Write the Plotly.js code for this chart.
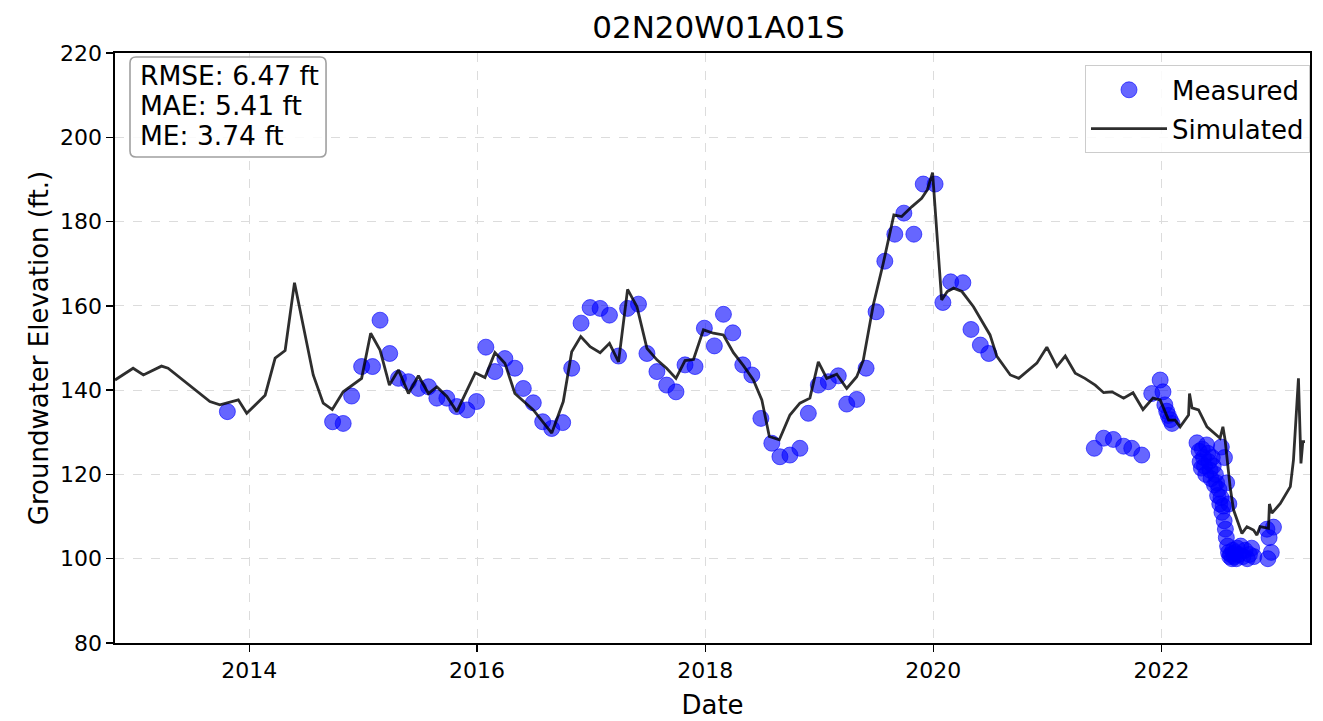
<!DOCTYPE html>
<html>
<head>
<meta charset="utf-8">
<script src="https://cdn.plot.ly/plotly-3.0.1.min.js"></script>
<style>html,body{margin:0;padding:0;background:#fff;}#chart{width:1323px;height:721px;}</style>
</head>
<body>
<div id="chart"></div>
<script>
// Simulated series
const simDates = ["2012-10-28","2012-12-25","2013-01-27","2013-03-26","2013-04-16","2013-06-15","2013-08-28","2013-09-29","2013-11-27","2013-12-24",
"2014-02-21","2014-03-25","2014-04-26","2014-05-26","2014-07-25","2014-08-26","2014-09-24","2014-10-29","2014-12-27","2015-01-25",
"2015-02-24","2015-03-26","2015-04-24","2015-05-26","2015-06-27","2015-07-29","2015-08-25","2015-09-26","2015-10-28","2015-12-26",
"2016-01-26","2016-02-27","2016-03-30","2016-05-01","2016-06-29","2016-08-27","2016-10-03","2016-10-30","2016-11-28","2016-12-28",
"2017-01-29","2017-02-28","2017-03-29","2017-04-27","2017-05-27","2017-06-28","2017-07-30","2017-08-30","2017-09-29","2017-10-28",
"2017-11-24","2017-12-26","2018-01-27","2018-02-28","2018-04-01","2018-05-03","2018-06-04","2018-07-01","2018-07-25","2018-08-26",
"2018-09-29","2018-10-31","2018-12-02","2018-12-29","2019-01-25","2019-02-26","2019-03-30","2019-05-01","2019-05-22","2019-06-23",
"2019-07-25","2019-08-28","2019-09-22","2019-10-24","2019-11-25","2019-12-13","2019-12-30","2020-01-28","2020-02-15","2020-03-06",
"2020-04-02","2020-05-09","2020-07-01","2020-07-23","2020-09-04","2020-10-01","2020-11-01","2020-11-28","2020-12-30","2021-01-31",
"2021-02-27","2021-03-31","2021-05-01","2021-06-03","2021-06-30","2021-07-27","2021-09-02","2021-10-02","2021-11-03","2021-12-05",
"2021-12-28","2022-01-24","2022-02-14","2022-03-02","2022-03-29","2022-04-01","2022-04-09","2022-04-30","2022-05-27","2022-07-08",
"2022-07-17","2022-07-24","2022-08-09","2022-08-20","2022-09-16","2022-10-02","2022-10-23","2022-11-03","2022-11-13","2022-12-10",
"2022-12-13","2022-12-21","2023-01-17","2023-02-18","2023-02-28","2023-03-16","2023-03-24","2023-03-30","2023-04-06"];
const simValues = [142.4,145.2,143.6,145.7,145.2,141.6,137.3,136.5,137.7,134.5,
138.8,147.6,149.4,165.5,143.6,136.9,135.4,139.6,142.8,153.5,
149.5,141.2,144.8,139.2,143.4,139.2,140.8,138.5,134.9,144.1,
143.0,148.9,146.4,139.2,135.3,129.8,137.3,149.1,152.7,150.3,
148.9,151.1,146.7,163.9,159.8,149.9,147.2,145.2,142.8,147.0,
147.3,154.3,153.5,153.1,148.9,145.8,142.4,137.7,129.0,128.2,
134.1,136.9,138.1,146.7,142.8,143.8,140.4,143.2,147.1,160.2,
170.1,181.6,181.2,183.5,185.5,187.5,191.6,161.4,163.4,164.2,
163.4,159.8,153.1,148.0,143.6,142.8,144.8,146.4,150.2,145.6,
148.1,144.0,142.8,141.2,139.4,139.6,138.1,139.4,135.4,138.1,
137.7,132.9,132.9,131.3,134.1,139.2,135.8,135.3,131.3,128.6,
131.3,128.2,117.1,111.6,106.0,107.6,106.8,105.6,107.6,107.2,
113.0,110.8,113.1,117.1,123.4,142.8,122.6,127.8,127.8];

// Measured series
const measDates = ["2013-10-23","2014-09-25","2014-10-29","2014-11-25","2014-12-27","2015-01-31","2015-02-24","2015-03-27","2015-04-24","2015-05-26",
"2015-06-27","2015-07-29","2015-08-25","2015-09-26","2015-10-28","2015-11-29","2015-12-30","2016-01-29","2016-02-27","2016-03-30",
"2016-05-01","2016-05-28","2016-06-29","2016-07-29","2016-08-27","2016-10-01","2016-10-30","2016-11-29","2016-12-28","2017-01-29",
"2017-02-28","2017-03-29","2017-04-27","2017-06-01","2017-06-28","2017-07-30","2017-08-30","2017-09-29","2017-10-28","2017-11-29",
"2017-12-29","2018-01-30","2018-02-28","2018-03-30","2018-05-01","2018-05-30","2018-06-28","2018-08-02","2018-08-28","2018-09-29",
"2018-10-31","2018-11-27","2018-12-29","2019-01-30","2019-03-03","2019-03-30","2019-05-01","2019-05-31","2019-07-02","2019-07-30",
"2019-08-31","2019-09-29","2019-10-31","2019-11-30","2020-01-07","2020-02-01","2020-02-26","2020-04-05","2020-05-01","2020-05-31",
"2020-06-27","2021-05-31","2021-06-30","2021-07-31","2021-09-02","2021-09-28","2021-10-30","2021-12-01","2021-12-28","2022-01-06",
"2022-01-12","2022-01-18","2022-01-23","2022-01-29","2022-02-04",
"2022-04-25","2022-05-02","2022-05-05","2022-05-09","2022-05-12","2022-05-16","2022-05-19","2022-05-23","2022-05-26","2022-05-30",
"2022-06-02","2022-06-06","2022-06-09","2022-06-13","2022-06-16","2022-06-20","2022-06-23","2022-06-27","2022-06-30","2022-07-04",
"2022-07-07","2022-07-11","2022-07-14","2022-07-18","2022-07-21","2022-07-25","2022-07-28","2022-08-01","2022-08-04","2022-08-08",
"2022-08-11","2022-08-15","2022-08-18","2022-08-22","2022-08-25","2022-08-29","2022-09-01","2022-09-05","2022-09-12","2022-09-19",
"2022-09-26","2022-10-03","2022-10-10","2022-10-17","2022-10-24","2022-12-05","2022-12-12","2022-12-19","2022-12-26","2022-12-08",
"2022-07-12","2022-07-22","2022-07-29","2022-08-05"];
const measValues = [134.9,132.5,132.1,138.6,145.6,145.6,156.6,148.7,142.8,142.0,
140.4,140.8,138.1,138.1,136.1,135.3,137.3,150.2,144.4,147.5,
145.2,140.4,137.0,132.5,130.9,132.3,145.2,155.9,159.6,159.4,
157.8,148.1,159.4,160.4,148.7,144.4,141.2,139.6,146.0,145.6,
154.7,150.5,158.0,153.6,146.0,143.6,133.3,127.4,124.2,124.6,
126.2,134.5,141.2,142.0,143.4,136.7,137.8,145.2,158.6,170.6,
177.0,182.0,177.0,188.9,188.9,160.8,165.7,165.5,154.4,150.7,
148.7,126.2,128.6,128.3,126.7,126.2,124.6,139.2,142.4,139.6,
136.5,135.0,134.0,133.0,132.1,
127.5,125.5,123.0,121.5,126.0,124.0,122.0,120.0,127.0,125.0,
123.0,121.0,119.0,124.0,122.0,117.5,120.0,118.0,115.0,116.5,
113.0,114.5,111.0,112.5,109.0,107.0,105.0,103.0,101.5,100.5,
101.0,100.0,102.0,100.5,101.5,100.0,102.5,101.0,103.0,100.5,
102.0,100.0,101.0,102.5,100.5,107.0,105.0,101.5,107.5,100.0,
126.5,124.0,118.0,113.0];

// Error statistics text
const statLines = ['RMSE: 6.47 ft', 'MAE: 5.41 ft', 'ME: 3.74 ft'];

const traces = [
  {
    x: measDates, y: measValues, type: 'scatter', mode: 'markers', name: 'Measured',
    legendgroup: 'a',
    marker: {size: 16, color: 'rgba(0,0,255,0.6)', line: {width: 1, color: 'rgba(0,0,255,0.6)'}}
  },
  {
    x: simDates, y: simValues, type: 'scatter', mode: 'lines', name: 'Simulated',
    legendgroup: 'b',
    line: {color: 'rgba(0,0,0,0.82)', width: 2.8}
  }
];

// rounded box for stats (paper coords; plot area 1195 x 590 px)
const PW = 1195, PH = 590;
function roundedBox(x0p, y0p, x1p, y1p, rpx) {
  const rx = rpx / PW, ry = rpx / PH;
  return `M ${x0p + rx},${y1p} L ${x1p - rx},${y1p} Q ${x1p},${y1p} ${x1p},${y1p - ry} ` +
         `L ${x1p},${y0p + ry} Q ${x1p},${y0p} ${x1p - rx},${y0p} L ${x0p + rx},${y0p} ` +
         `Q ${x0p},${y0p} ${x0p},${y0p + ry} L ${x0p},${y1p - ry} Q ${x0p},${y1p} ${x0p + rx},${y1p} Z`;
}

const font = 'DejaVu Sans, sans-serif';
const statY = [0.9627, 0.911, 0.860];
const annotations = statLines.map((t, i) => ({
  xref: 'paper', yref: 'paper', x: 0.0195, y: statY[i], xanchor: 'left', yanchor: 'middle',
  text: t, align: 'left', showarrow: false, font: {size: 26.5, color: '#000'}
}));

const layout = {
  width: 1323, height: 721,
  margin: {l: 115, r: 13, t: 53, b: 78},
  paper_bgcolor: '#fff', plot_bgcolor: '#fff',
  font: {family: font, color: '#000', size: 22},
  title: {text: '02N20W01A01S', font: {family: font, size: 31, color: '#000'}, xref: 'paper', x: 0.505, xanchor: 'center', y: 0.963, yanchor: 'middle'},
  xaxis: {
    type: 'date', range: ['2012-10-28', '2023-04-22'],
    tick0: '2014-01-01', dtick: 'M24', tickformat: '%Y',
    ticks: 'outside', ticklen: 7, tickwidth: 1.3, tickcolor: '#000',
    showline: true, linecolor: '#000', linewidth: 1.6, mirror: true,
    showgrid: true, gridcolor: '#dcdcdc', griddash: 'dash', gridwidth: 1,
    zeroline: false,
    tickfont: {size: 22},
    title: {text: 'Date', font: {size: 26}, standoff: 14}
  },
  yaxis: {
    range: [80, 220], dtick: 20, tick0: 80,
    ticks: 'outside', ticklen: 7, tickwidth: 1.3, tickcolor: '#000',
    showline: true, linecolor: '#000', linewidth: 1.6, mirror: true,
    showgrid: true, gridcolor: '#dcdcdc', griddash: 'dash', gridwidth: 1,
    zeroline: false,
    tickfont: {size: 22},
    title: {text: 'Groundwater Elevation (ft.)', font: {size: 26}, standoff: 4}
  },
  legend: {
    x: 1.0, xanchor: 'right', y: 0.979, yanchor: 'top',
    bgcolor: 'rgba(255,255,255,0.85)', bordercolor: '#cccccc', borderwidth: 1,
    font: {size: 26}, itemwidth: 76, tracegroupgap: 2
  },
  showlegend: true,
  shapes: [{
    type: 'path', xref: 'paper', yref: 'paper',
    path: roundedBox(0.01255, 0.8237, 0.1766, 0.9932, 6),
    fillcolor: 'rgba(255,255,255,0.85)', line: {color: '#a0a0a0', width: 1.6}, layer: 'above'
  }],
  annotations: annotations
};

Plotly.newPlot('chart', traces, layout, {displayModeBar: false, staticPlot: true});
</script>
</body>
</html>
